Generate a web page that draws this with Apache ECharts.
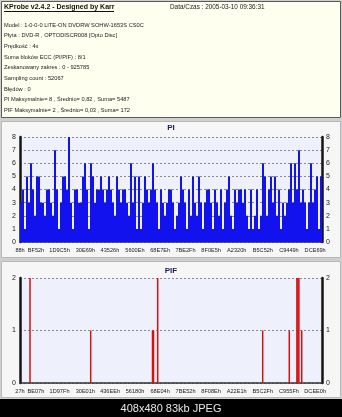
<!DOCTYPE html>
<html><head><meta charset="utf-8">
<script src="https://cdn.jsdelivr.net/npm/echarts@6/dist/echarts.min.js"></script>
<style>html,body{margin:0;padding:0;background:#000}#c{width:342px;height:417px}</style>
</head><body><div id="c"></div>
<script>
// ---- data ----
const scanMax = 925785;
const headerLines = [
  'Model : 1-0-0-0 LITE-ON DVDRW SOHW-1653S CS0C',
  'Płyta : DVD-R , OPTODISCR008 [Opto Disc]',
  'Prędkość : 4x',
  'Suma bloków ECC (PI/PIF) : 8/1',
  'Zeskanowany zakres : 0 - 925785',
  'Sampling count : 52067',
  'Błędów : 0',
  'PI Maksymalnie= 8 , Średnio= 0,82 , Suma= 5487',
  'PIF Maksymalnie= 2 , Średnio= 0,03 , Suma= 172'
];
const piTickLabels = ['88h','BF52h','1D9C5h','30E69h','43526h','5600Eh','68E7Eh','7BE2Fh','8F0E5h','A2320h','B5C52h','C9449h','DCE69h'];
const pifTickLabels = ['27h','BE07h','1D97Fh','30E01h','436EEh','56180h','68E04h','7BE52h','8F08Eh','A22E1h','B5C2Fh','C955Fh','DCEE0h'];
// PI samples, evenly spread over the scanned range
const piValues = [
  3,4,1,5,3,6,4,2,5,5,3,3,2,4,4,3,2,7,4,1,3,5,5,4,8,3,1,4,4,3,3,5,6,4,1,6,
  5,3,4,4,5,4,3,4,5,4,3,2,5,4,3,4,4,3,2,6,3,5,1,5,1,3,5,4,3,4,6,4,3,1,4,3,2,
  3,4,4,3,1,2,3,5,4,3,1,4,2,5,3,2,5,3,1,3,4,4,3,1,4,3,2,4,1,3,4,5,2,1,4,3,4,
  4,3,4,2,1,4,1,2,4,1,2,6,5,2,4,5,3,5,2,4,1,3,2,3,4,6,3,6,4,7,3,4,3,1,3,6,3,4,5,1,5
];
// PIF hits: address and count
const pifLba    = [30700, 216700, 406200, 409300, 422100, 744000, 825500, 848800, 851900, 855000, 863600];
const pifValues = [2, 1, 1, 1, 2, 1, 1, 2, 2, 2, 1];

// ---- chart ----
const toHex = v => v.toString(16).toUpperCase() + 'h';
const piTickVals = piTickLabels.map(s => parseInt(s, 16));
const pifTickVals = pifTickLabels.map(s => parseInt(s, 16));
const step = scanMax / piValues.length;
const piData = piValues.map((v, i) => [(i + 0.5) * step, v]);
const pifData = pifLba.map((l, i) => [l, pifValues[i]]);

const F = '"Liberation Sans", Arial, sans-serif';
const graphics = [
  {type:'rect', z:-20, shape:{x:0,y:0,width:342,height:400}, style:{fill:'#cfcfcf'}},
  {type:'rect', z:-19, shape:{x:1.5,y:1.5,width:339,height:116}, style:{fill:'#fffff0', stroke:'#5a5a5a', lineWidth:1}},
  {type:'rect', z:-19, shape:{x:1.5,y:121.5,width:339,height:136}, style:{fill:'#f6f6f6', stroke:'#b8b8b8', lineWidth:1}},
  {type:'rect', z:-19, shape:{x:1.5,y:261.5,width:339,height:136}, style:{fill:'#f6f6f6', stroke:'#b8b8b8', lineWidth:1}},
  {type:'rect', z:-19, shape:{x:0,y:399,width:342,height:18}, style:{fill:'#000'}},
  {type:'text', x:4, y:7, style:{text:'KProbe v2.4.2 - Designed by Karr', font:'bold 7px ' + F, fill:'#111', verticalAlign:'middle'}},
  {type:'line', shape:{x1:4, y1:11.5, x2:114, y2:11.5}, style:{stroke:'#111', lineWidth:1}},
  {type:'text', x:170, y:7, style:{text:'Data/Czas : 2005-03-10 09:36:31', font:'6.4px ' + F, fill:'#222', verticalAlign:'middle'}},
  {type:'text', x:171, y:409, style:{text:'408x480 83kb JPEG', font:'11px ' + F, fill:'#e6e6e6', align:'center', verticalAlign:'middle'}}
];
headerLines.forEach((t, i) => graphics.push({type:'text', x:4, y:25 + i * 10.66,
  style:{text:t, font:'5.7px ' + F, fill:'#222', verticalAlign:'middle'}}));

function yAx(grid, max, pos) {
  return {type:'value', gridIndex:grid, min:0, max:max, interval:1, position:pos,
    axisLine:{show:true, onZero:false, lineStyle:{color:'#151515', width:2.5}},
    axisTick:{show:false},
    axisLabel:{fontSize:7, color:'#222', margin:4, fontFamily:F},
    splitLine:{show:pos === 'left', lineStyle:{color:'#8a8a8a', type:[2,2], width:1}}};
}
function xAx(grid, vals) {
  return {type:'value', gridIndex:grid, min:0, max:scanMax,
    axisLine:{show:true, onZero:false, lineStyle:{color:'#303030', width:1.5}},
    axisTick:{show:false}, splitLine:{show:false},
    axisLabel:{customValues:vals, formatter:toHex, fontSize:5.6, color:'#222', margin:5,
      fontFamily:F, hideOverlap:false, showMinLabel:true, showMaxLabel:true}};
}

const chart = echarts.init(document.getElementById('c'), null, {renderer:'canvas'});
chart.setOption({
  animation:false,
  backgroundColor:'#000',
  graphic:{elements:graphics},
  title:[
    {text:'PI', left:'center', top:124, padding:0, textStyle:{fontSize:8, fontWeight:'bold', color:'#1c1c5a', fontFamily:F}},
    {text:'PIF', left:'center', top:267, padding:0, textStyle:{fontSize:8, fontWeight:'bold', color:'#1c1c5a', fontFamily:F}}
  ],
  grid:[
    {left:20, top:137, width:302, height:105, show:true, backgroundColor:'#eef0fb', borderWidth:0},
    {left:20, top:278, width:302, height:105, show:true, backgroundColor:'#eef0fb', borderWidth:0}
  ],
  xAxis:[xAx(0, piTickVals), xAx(1, pifTickVals)],
  yAxis:[yAx(0, 8, 'left'), yAx(0, 8, 'right'), yAx(1, 2, 'left'), yAx(1, 2, 'right')],
  series:[
    {type:'bar', xAxisIndex:0, yAxisIndex:0, data:piData, barWidth:2, itemStyle:{color:'#1212ee'}},
    {type:'bar', xAxisIndex:1, yAxisIndex:2, data:pifData, barWidth:1.5, itemStyle:{color:'#d81010'}}
  ]
});
</script></body></html>
